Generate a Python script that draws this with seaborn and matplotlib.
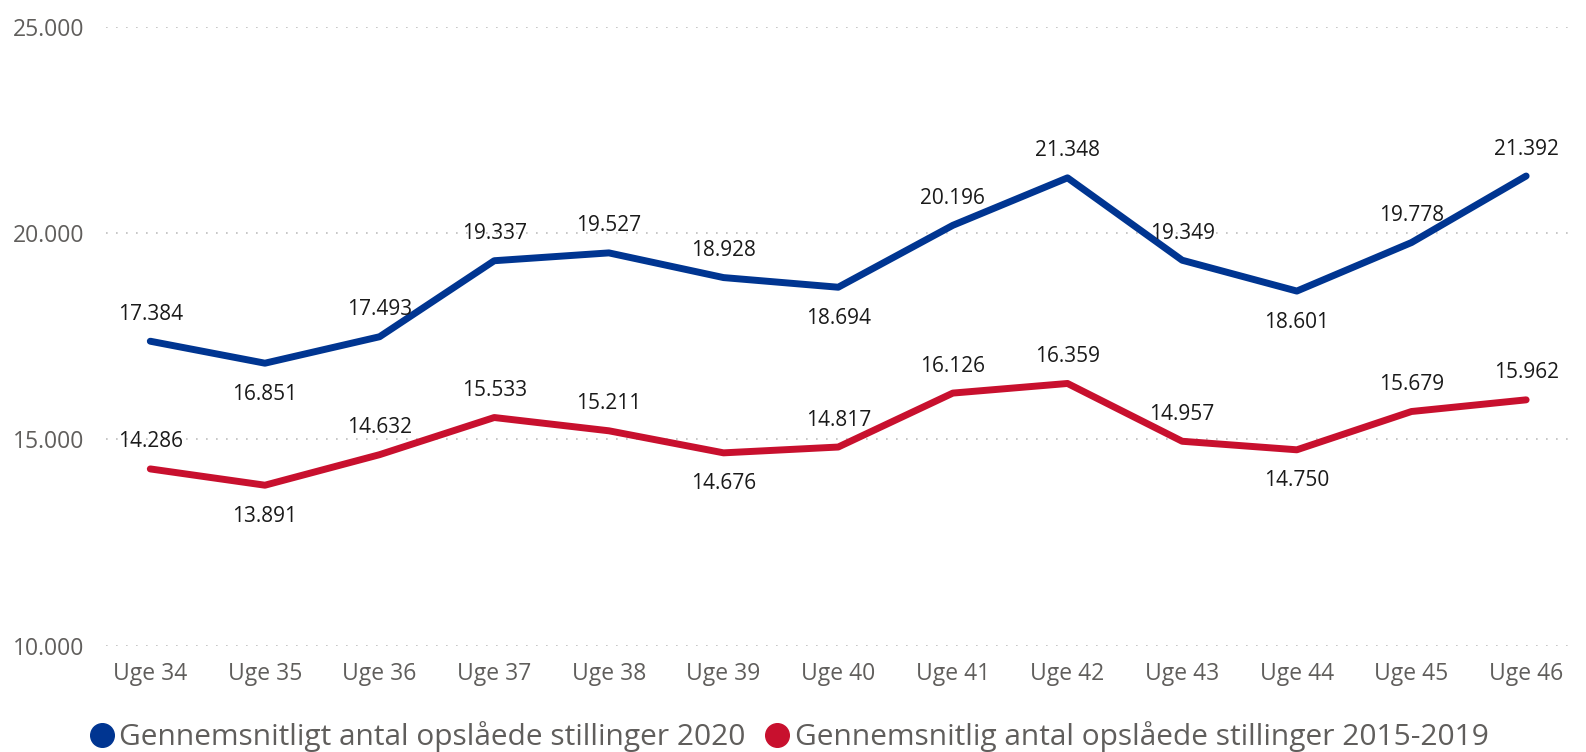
import matplotlib.pyplot as plt
from matplotlib.lines import Line2D
import seaborn as sns
import pandas as pd

weeks = ['Uge 34', 'Uge 35', 'Uge 36', 'Uge 37', 'Uge 38', 'Uge 39', 'Uge 40',
         'Uge 41', 'Uge 42', 'Uge 43', 'Uge 44', 'Uge 45', 'Uge 46']
avg_2020 = [17384, 16851, 17493, 19337, 19527, 18928, 18694,
            20196, 21348, 19349, 18601, 19778, 21392]
avg_2015_2019 = [14286, 13891, 14632, 15533, 15211, 14676, 14817,
                 16126, 16359, 14957, 14750, 15679, 15962]
series_names = ['Gennemsnitligt antal opslåede stillinger 2020',
                'Gennemsnitlig antal opslåede stillinger 2015-2019']
# label placement: 1 = above point, -1 = below
pos_2020 = [1, -1, 1, 1, 1, 1, -1, 1, 1, 1, -1, 1, 1]
pos_old = [1, -1, 1, 1, 1, -1, 1, 1, 1, 1, -1, 1, 1]
colors = ['#003591', '#c8102e']

sns.set_style('white')
plt.rcParams['font.family'] = ['Open Sans', 'DejaVu Sans']

df = pd.DataFrame({
    'week': weeks * 2,
    'value': avg_2020 + avg_2015_2019,
    'series': [series_names[0]] * len(weeks) + [series_names[1]] * len(weeks),
})

fig = plt.figure(figsize=(15.86, 7.52), dpi=100)
ax = fig.add_axes([0.067, 0.1415, 0.922, 0.8222])

sns.lineplot(data=df, x='week', y='value', hue='series', palette=colors,
             linewidth=5, ax=ax, legend=False, sort=False)

def fmt(v):
    return f'{v:,}'.replace(',', '.')

for vals, pos in [(avg_2020, pos_2020), (avg_2015_2019, pos_old)]:
    for i, (v, p) in enumerate(zip(vals, pos)):
        off = 27 if p > 0 else -31
        ax.annotate(fmt(v), (i, v), xytext=(0, off), textcoords='offset pixels',
                    ha='center', va='center', fontsize=15, color='#1a1a1a')

ax.set_ylim(10000, 25000)
ax.set_xlim(-0.384, 12.37)
ax.set_yticks([10000, 15000, 20000, 25000])
ax.set_yticklabels([fmt(t) for t in [10000, 15000, 20000, 25000]])
ax.yaxis.grid(True, linestyle=(0, (1, 5)), color='#bdbdbd', linewidth=1.2)
ax.xaxis.grid(False)
ax.set_xlabel('')
ax.set_ylabel('')
for s in ax.spines.values():
    s.set_visible(False)
ax.tick_params(axis='both', length=0, labelsize=16.5, labelcolor='#605e5c')
ax.tick_params(axis='y', pad=16)
ax.tick_params(axis='x', pad=12)

handles = [Line2D([], [], marker='o', linestyle='', markersize=17, color=c) for c in colors]
fig.legend(handles, series_names, loc='lower center', bbox_to_anchor=(0.492, -0.036),
           ncol=2, frameon=False, fontsize=21.5, handletextpad=-0.4,
           columnspacing=0.05, labelcolor='#605e5c')

fig.savefig('out.png', dpi=100)
